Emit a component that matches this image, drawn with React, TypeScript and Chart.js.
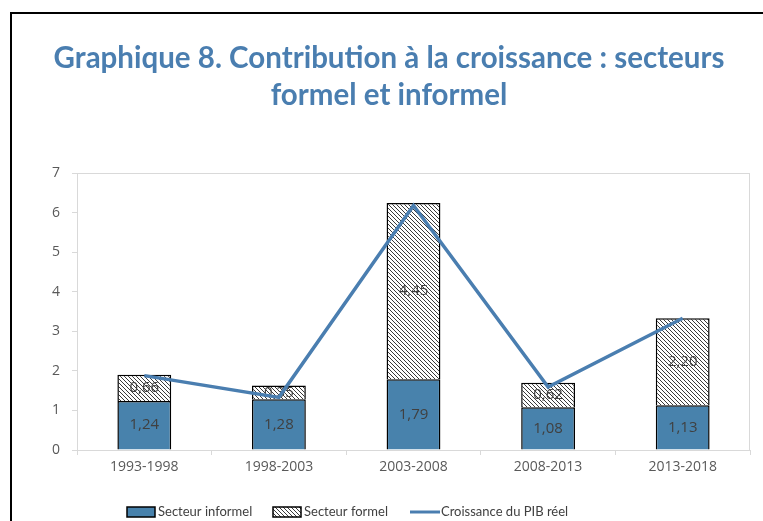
import React, { useEffect, useRef } from "react";
import { Chart, registerables } from "chart.js";

Chart.register(...registerables);

const categories = ["1993-1998", "1998-2003", "2003-2008", "2008-2013", "2013-2018"];
const informel = [1.24, 1.28, 1.79, 1.08, 1.13];
const formel = [0.66, 0.35, 4.45, 0.62, 2.2];
const pib = [1.88, 1.33, 6.18, 1.59, 3.33];
const yTicks = [0, 1, 2, 3, 4, 5, 6, 7];
const titleLines = ["Graphique 8. Contribution à la croissance : secteurs", "formel et informel"];
const seriesNames = ["Secteur informel", "Secteur formel", "Croissance du PIB réel"];

const BLUE = "#4882AC";
const LINE = "#4A7EB0";
const TITLE = "#4A7EB0";
const FONT = "'Open Sans', 'DejaVu Sans', sans-serif";

function makeHatch(): CanvasPattern | string {
  const c = document.createElement("canvas");
  c.width = 4;
  c.height = 4;
  const g = c.getContext("2d");
  if (!g) return "#ccc";
  g.fillStyle = "#ffffff";
  g.fillRect(0, 0, 4, 4);
  g.strokeStyle = "#3a3a3a";
  g.lineWidth = 1;
  g.beginPath();
  g.moveTo(-1, -1);
  g.lineTo(5, 5);
  g.moveTo(3, -1);
  g.lineTo(5, 1);
  g.moveTo(-1, 3);
  g.lineTo(1, 5);
  g.stroke();
  const p = g.createPattern(c, "repeat");
  return p || "#ccc";
}

const fmt = (v: number) => v.toFixed(2).replace(".", ",");

export default function App() {
  const ref = useRef<HTMLCanvasElement | null>(null);

  useEffect(() => {
    if (!ref.current) return;
    const hatch = makeHatch();

    const framePlugin = {
      id: "frame",
      beforeDraw(chart: any) {
        const ctx = chart.ctx;
        ctx.save();
        ctx.fillStyle = "#ffffff";
        ctx.fillRect(0, 0, chart.width, chart.height);
        ctx.strokeStyle = "#000000";
        ctx.lineWidth = 2;
        ctx.beginPath();
        ctx.moveTo(11, chart.height + 5);
        ctx.lineTo(11, 13);
        ctx.lineTo(chart.width + 5, 13);
        ctx.stroke();
        // title
        ctx.fillStyle = TITLE;
        ctx.font = `bold 29.5px Lato, ${FONT}`;
        ctx.textAlign = "center";
        ctx.textBaseline = "middle";
        titleLines.forEach((t, i) => ctx.fillText(t, 389, 58 + i * 37));
        ctx.restore();
      },
      beforeDatasetsDraw(chart: any) {
        const { ctx, chartArea } = chart;
        ctx.save();
        ctx.strokeStyle = "#d9d9d9";
        ctx.lineWidth = 1;
        ctx.strokeRect(chartArea.left + 0.5, chartArea.top + 0.5, chartArea.right - chartArea.left - 1, chartArea.bottom - chartArea.top);
        ctx.restore();
      },
      afterDatasetDraw(chart: any, args: any) {
        const ds = chart.data.datasets[args.index];
        if (ds.type !== "bar") return;
        const ctx = chart.ctx;
        const meta = chart.getDatasetMeta(args.index);
        ctx.save();
        ctx.fillStyle = "#404040";
        ctx.font = `15px ${FONT}`;
        ctx.textAlign = "center";
        ctx.textBaseline = "middle";
        meta.data.forEach((el: any, i: number) => {
          const y = (el.y + el.base) / 2;
          ctx.fillText(fmt(ds.data[i]), el.x, y);
        });
        ctx.restore();
      },
      afterDraw(chart: any) {
        const ctx = chart.ctx;
        ctx.save();
        ctx.font = `13px Lato, ${FONT}`;
        ctx.fillStyle = "#404040";
        ctx.textBaseline = "middle";
        ctx.textAlign = "left";
        const y = 512;
        const ds = chart.data.datasets;
        const items = [
          { ds: ds[1], x: 127 },
          { ds: ds[2], x: 273 },
          { ds: ds[0], x: 410 },
        ];
        items.forEach(({ ds: d, x }) => {
          if (d.type === "bar") {
            ctx.fillStyle = d.backgroundColor;
            ctx.fillRect(x, y - 5, 28, 10);
            ctx.strokeStyle = "#000";
            ctx.lineWidth = 1.5;
            ctx.strokeRect(x, y - 5, 28, 10);
          } else {
            ctx.strokeStyle = d.borderColor;
            ctx.lineWidth = 3;
            ctx.beginPath();
            ctx.moveTo(x, y);
            ctx.lineTo(x + 30, y);
            ctx.stroke();
          }
          ctx.fillStyle = "#404040";
          ctx.fillText(d.label, x + 31, y);
        });
        ctx.restore();
      },
    };

    const chart = new Chart(ref.current, {
      type: "bar",
      data: {
        labels: categories,
        datasets: [
          {
            type: "line",
            label: seriesNames[2],
            data: pib,
            borderColor: LINE,
            borderWidth: 3.5,
            pointRadius: 0,
            fill: false,
            tension: 0,
            order: 0,
          } as any,
          {
            type: "bar",
            label: seriesNames[0],
            data: informel,
            backgroundColor: BLUE,
            borderColor: "#000000",
            borderWidth: 1.5,
            stack: "s",
            order: 1,
          },
          {
            type: "bar",
            label: seriesNames[1],
            data: formel,
            backgroundColor: hatch as any,
            borderColor: "#000000",
            borderWidth: 1.5,
            stack: "s",
            order: 1,
          },
        ],
      },
      options: {
        responsive: false,
        animation: false,
        layout: { padding: { top: 173, left: 0, right: 13, bottom: 41 } },
        datasets: { bar: { categoryPercentage: 1, barPercentage: 0.4 } },
        plugins: {
          legend: { display: false },
          title: { display: false },
          tooltip: { enabled: false },
        },
        scales: {
          x: {
            stacked: true,
            offset: true,
            grid: { display: true, drawOnChartArea: false, drawTicks: true, tickLength: 5, color: "#d9d9d9", offset: true },
            border: { display: true, color: "#d9d9d9" },
            ticks: { color: "#595959", font: { family: FONT, size: 14 }, padding: 4, maxRotation: 0 },
            afterFit(scale: any) {
              scale.height = 30;
            },
          },
          y: {
            stacked: true,
            min: yTicks[0],
            max: yTicks[yTicks.length - 1],
            afterBuildTicks(scale: any) {
              scale.ticks = yTicks.map((v) => ({ value: v }));
            },
            grid: { display: true, drawOnChartArea: false, drawTicks: true, tickLength: 5, color: "#d9d9d9" },
            border: { display: true, color: "#d9d9d9" },
            ticks: { color: "#595959", font: { family: FONT, size: 14 }, padding: 12 },
            afterFit(scale: any) {
              scale.width = 77;
            },
          },
        },
      },
      plugins: [framePlugin],
    });

    return () => chart.destroy();
  }, []);

  return (
    <div style={{ position: "fixed", left: 0, top: 0, width: 763, height: 521, background: "#fff" }}>
      <canvas ref={ref} width={763} height={521} />
    </div>
  );
}
